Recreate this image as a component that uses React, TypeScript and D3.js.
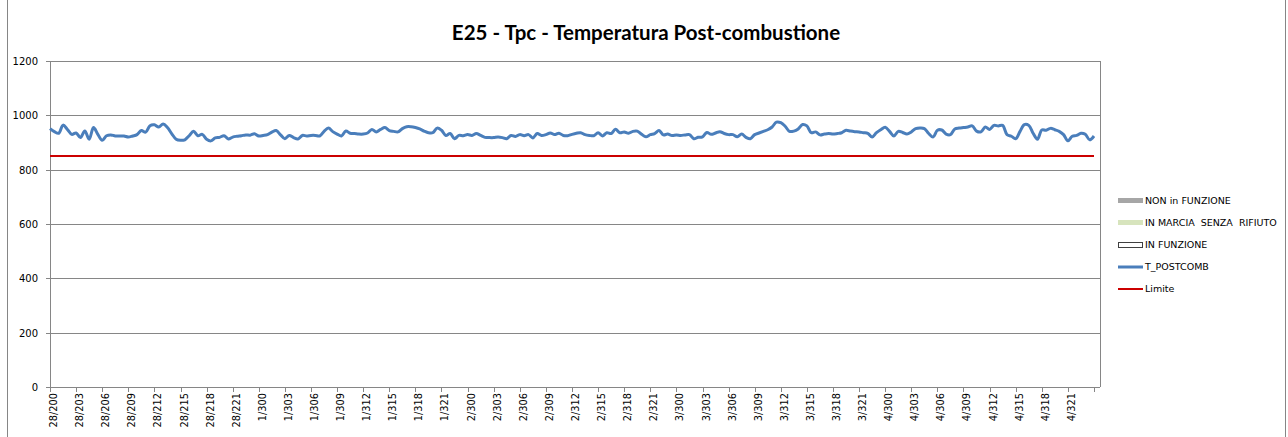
import { useMemo } from "react";
import { scaleLinear, scalePoint, line, curveCatmullRom } from "d3";

// days and the labelled hours (data is half-hourly, a label every 3 hours)
const DAYS = ["28/2", "1/3", "2/3", "3/3", "4/3"];
const LABEL_HOURS = ["00", "03", "06", "09", "12", "15", "18", "21"];

// T_POSTCOMB readings, every 30 minutes from 28/2 00:00 to 5/3 00:00
const T_POSTCOMB = [
  951, 940, 934, 964, 948, 930, 935, 918, 942, 912, 955, 930, 908, 925, 928, 924, 924, 924, 920, 924,
  929, 944, 938, 962, 965, 957, 968, 955, 932, 912, 908, 910, 925, 941, 925, 930, 912, 906, 917, 919,
  925, 913, 920, 923, 925, 928, 927, 932, 924, 926, 929, 938, 944, 928, 914, 926, 918, 913, 926, 924,
  926, 926, 924, 941, 953, 940, 931, 924, 942, 934, 933, 931, 931, 935, 948, 939, 948, 955, 944, 941,
  939, 951, 958, 958, 955, 950, 942, 936, 936, 953, 945, 926, 933, 914, 926, 925, 929, 926, 933, 926,
  919, 918, 918, 920, 918, 914, 926, 922, 929, 925, 929, 917, 933, 926, 929, 935, 929, 934, 926, 925,
  930, 934, 936, 929, 926, 925, 936, 924, 936, 933, 949, 936, 939, 934, 941, 942, 930, 921, 929, 933,
  944, 928, 931, 926, 928, 926, 928, 929, 914, 919, 921, 937, 930, 935, 940, 933, 929, 929, 921, 931,
  919, 914, 929, 935, 941, 947, 957, 975, 973, 960, 941, 942, 950, 966, 961, 936, 939, 928, 931, 933,
  931, 933, 936, 945, 942, 940, 939, 936, 934, 920, 936, 947, 956, 941, 924, 941, 937, 931, 939, 951,
  953, 951, 933, 920, 945, 946, 931, 929, 950, 953, 955, 957, 961, 942, 939, 957, 948, 963, 961, 963,
  929, 923, 914, 941, 966, 963, 934, 912, 946, 945, 952, 947, 941, 929, 906, 923, 926, 934, 930, 910,
  924,
];
const LIMITE = 850;

const Y_TICKS = [0, 200, 400, 600, 800, 1000, 1200];
const TITLE = "E25 - Tpc - Temperatura Post-combustione";

const LEGEND = [
  { label: "NON in FUNZIONE", kind: "box", fill: "#a6a6a6", stroke: "none" },
  { label: "IN MARCIA  SENZA  RIFIUTO", kind: "box", fill: "#d7e4bd", stroke: "none" },
  { label: "IN FUNZIONE", kind: "box", fill: "#ffffff", stroke: "#404040" },
  { label: "T_POSTCOMB", kind: "line", fill: "none", stroke: "#4a7ebb" },
  { label: "Limite", kind: "line", fill: "none", stroke: "#cc0000" },
];

const W = 1288;
const H = 437;
const PLOT = { left: 50, right: 1094, top: 61, bottom: 387, frameRight: 1100 };
const GRID = "#868686";
const FONT = "DejaVu Sans, Verdana, sans-serif";

export default function App() {
  const categories = useMemo(() => {
    const out: string[] = [];
    DAYS.forEach((d) => {
      for (let h = 0; h < 24; h++) {
        const hh = String(h).padStart(2, "0");
        out.push(`${d}${hh}:00`, `${d}${hh}:30`);
      }
    });
    out.push("5/300:00");
    return out;
  }, []);

  const x = scalePoint<string>().domain(categories).range([PLOT.left, PLOT.right]);
  const y = scaleLinear().domain([0, 1200]).range([PLOT.bottom, PLOT.top]);

  const pts = T_POSTCOMB.map((v, i) => ({ c: categories[i], v }));
  const limitPts = categories.map((c) => ({ c, v: LIMITE }));

  const path = line<{ c: string; v: number }>()
    .x((d) => x(d.c) ?? 0)
    .y((d) => y(d.v))
    .curve(curveCatmullRom.alpha(0.5));

  const straight = line<{ c: string; v: number }>()
    .x((d) => x(d.c) ?? 0)
    .y((d) => y(d.v));

  // tick every 3 hours (6 half-hour points)
  const tickCats = categories.filter((_, i) => i % 6 === 0);
  const labelText = (c: string) => {
    const day = DAYS.find((d) => c.startsWith(d));
    const hh = c.slice(day ? day.length : 0, (day ? day.length : 0) + 2);
    return day && LABEL_HOURS.includes(hh) ? `${day}${hh}` : "";
  };

  return (
    <svg
      width={W}
      height={H}
      viewBox={`0 0 ${W} ${H}`}
      style={{ position: "absolute", left: 0, top: 0, background: "#fff" }}
    >
      {/* chart frame */}
      <line x1={7.5} x2={7.5} y1={0} y2={H} stroke={GRID} strokeWidth={1} />
      <line x1={1285.5} x2={1285.5} y1={0} y2={H} stroke={GRID} strokeWidth={1} />

      <text x={646} y={40} textAnchor="middle" fontFamily="Lato, Open Sans, sans-serif" fontWeight={700} fontSize={20.5} fill="#000">
        {TITLE}
      </text>

      {/* gridlines + y labels */}
      {Y_TICKS.map((t) => (
        <g key={t}>
          <line x1={PLOT.left - 4} x2={PLOT.frameRight} y1={Math.round(y(t)) + 0.5} y2={Math.round(y(t)) + 0.5} stroke={GRID} strokeWidth={1} />
          <text x={38} y={Math.round(y(t)) + 0.5} dy="0.35em" textAnchor="end" fontFamily={FONT} fontSize={10} fill="#000">
            {t}
          </text>
        </g>
      ))}
      <line x1={PLOT.left + 0.5} x2={PLOT.left + 0.5} y1={PLOT.top} y2={PLOT.bottom} stroke={GRID} strokeWidth={1} />
      <line x1={PLOT.frameRight + 0.5} x2={PLOT.frameRight + 0.5} y1={PLOT.top} y2={PLOT.bottom} stroke={GRID} strokeWidth={1} />

      {/* x ticks + labels */}
      {tickCats.map((c) => {
        const px = Math.round(x(c) ?? 0) + 0.5;
        const lbl = labelText(c);
        return (
          <g key={c}>
            <line x1={px} x2={px} y1={PLOT.bottom} y2={PLOT.bottom + 5} stroke={GRID} strokeWidth={1} />
            {lbl && (
              <text
                transform={`translate(${px + 3.5},${PLOT.bottom + 6}) rotate(-90)`}
                dy="0.35em"
                textAnchor="end"
                fontFamily={FONT}
                fontSize={9.8}
                fill="#000"
              >
                {lbl}
              </text>
            )}
          </g>
        );
      })}

      {/* series */}
      <path d={straight(limitPts) ?? ""} fill="none" stroke="#cc0000" strokeWidth={2} />
      <path d={path(pts) ?? ""} fill="none" stroke="#4a7ebb" strokeWidth={3} strokeLinejoin="round" />

      {/* legend */}
      {LEGEND.map((item, i) => {
        const cy = 201 + i * 22;
        return (
          <g key={item.label}>
            {item.kind === "box" ? (
              <rect
                x={item.stroke === "none" ? 1118 : 1118.5}
                y={item.stroke === "none" ? cy - 3 : cy - 2.5}
                width={item.stroke === "none" ? 25 : 24}
                height={5}
                fill={item.fill}
                stroke={item.stroke}
                strokeWidth={1}
              />
            ) : (
              <line x1={1118} x2={1143} y1={cy} y2={cy} stroke={item.stroke} strokeWidth={item.label === "Limite" ? 2 : 3} />
            )}
            <text x={1145} y={cy} dy="0.35em" fontFamily={FONT} fontSize={9.5} fill="#000" style={{ whiteSpace: "pre" }}>
              {item.label}
            </text>
          </g>
        );
      })}
    </svg>
  );
}
